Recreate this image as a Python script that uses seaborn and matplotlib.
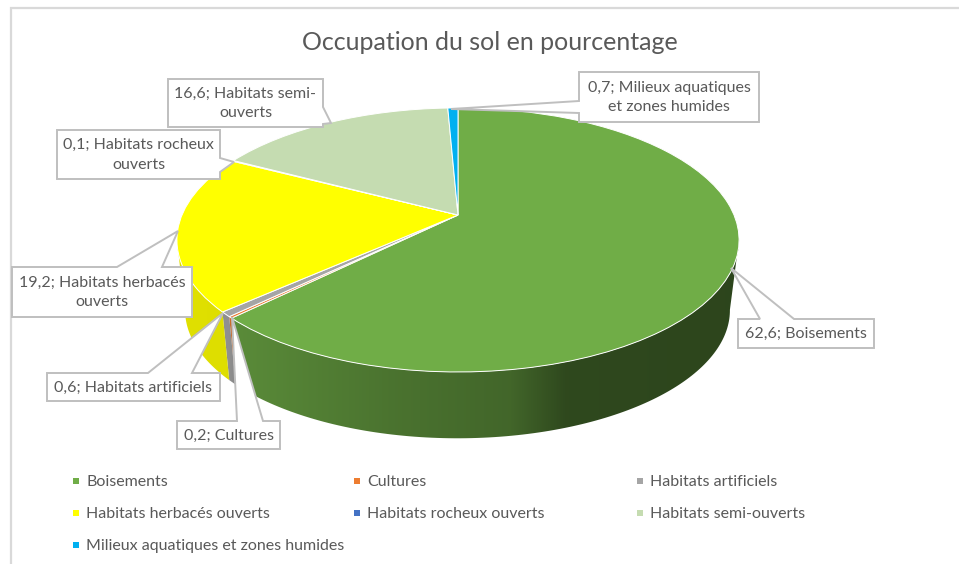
import numpy as np
import matplotlib
matplotlib.use("Agg")
import matplotlib.pyplot as plt
from matplotlib.transforms import Transform
import seaborn as sns

# --- data ---------------------------------------------------------------
categories = ["Boisements", "Cultures", "Habitats artificiels",
              "Habitats herbacés ouverts", "Habitats rocheux ouverts",
              "Habitats semi-ouverts", "Milieux aquatiques et zones humides"]
values = [62.6, 0.2, 0.6, 19.2, 0.1, 16.6, 0.7]
hex_colors = ["#70AD47", "#ED7D31", "#A5A5A5", "#FFFF00", "#4472C4", "#C5DCB1", "#00B0F0"]
wrapped = ["Boisements", "Cultures", "Habitats artificiels",
           "Habitats herbacés\nouverts", "Habitats rocheux\nouverts",
           "Habitats semi-\nouverts", "Milieux aquatiques\net zones humides"]
title = "Occupation du sol en pourcentage"

# --- style --------------------------------------------------------------
sns.set_theme(style="white")
plt.rcParams["font.family"] = ["Lato", "DejaVu Sans"]
palette = sns.color_palette(hex_colors)
TXT = "#595959"
LINE = "#BFBFBF"
W, H = 959, 564

fig = plt.figure(figsize=(W / 100, H / 100), dpi=100)
ax = fig.add_axes([0, 0, 1, 1])


class PiePerspective(Transform):
    """Tilted view of the unit pie, in pixel-like axes coordinates."""
    input_dims = output_dims = 2
    is_separable = False
    has_inverse = False

    def __init__(self, cx, cy, a, b, k):
        super().__init__()
        self.p = (cx, cy, a, b, k)

    def transform_non_affine(self, xy):
        xy = np.asarray(xy, float)
        cx, cy, a, b, k = self.p
        w = 1 + k * xy[:, 1]
        return np.column_stack([cx + a * xy[:, 0] / w, cy - b * xy[:, 1] / w])


top = PiePerspective(458, 215, 276, 127.3, 0.189)
bottom = PiePerspective(457.5, 286, 267.5, 123.5, 0.189)

wedges, _ = ax.pie(values, startangle=90, counterclock=False, colors=palette,
                   wedgeprops=dict(edgecolor="white", linewidth=0.7))
for w in wedges:
    w.set_transform(top + ax.transData)
    w.set_zorder(2)

# --- side wall: a horizontal gradient clipped to each slice's wall --------
shade_x = [180, 228, 240, 400, 510, 565, 740]
shade_f = [0.88, 0.87, 0.80, 0.66, 0.59, 0.42, 0.40]
gx = np.arange(170, 750)
gf = np.interp(gx, shade_x, shade_f)
for w, col in zip(wedges, palette):
    angles = np.linspace(w.theta1, w.theta2, max(3, int(w.theta2 - w.theta1) + 2))
    angles = angles[np.sin(np.radians(angles)) < -0.18]
    if len(angles) < 2:
        continue
    rim = np.column_stack([np.cos(np.radians(angles)), np.sin(np.radians(angles))])
    pts = np.vstack([top.transform_non_affine(rim), bottom.transform_non_affine(rim)[::-1]])
    outline, = ax.fill(pts[:, 0], pts[:, 1], facecolor="none", edgecolor="none", zorder=1)
    grad = (np.array(col)[None, None, :] * gf[None, :, None])
    im = ax.imshow(grad, extent=(170, 750, 450, 100), aspect="auto",
                   interpolation="bilinear", zorder=1)
    im.set_clip_path(outline)

ax.set_aspect("auto")
ax.set_xlim(0, W)
ax.set_ylim(H, 0)
ax.axis("off")

# --- callouts ------------------------------------------------------------
boxes = [  # x0, y0, x1, y1, tail polygon inserted into the outline
    (738, 319, 874, 348, [(760, 319), (731, 268), (794, 319)], "top"),
    (177, 421, 280, 449, [(237, 421), (232, 317), (263, 421)], "top"),
    (47, 373, 220, 401, [(148, 373), (223, 313), (192, 373)], "top"),
    (12, 267, 192, 317, [(117, 267), (178, 231), (162, 267)], "top"),
    (57, 130, 220, 179, [(220, 158), (234, 162), (220, 172)], "right"),
    (168, 79, 323, 127, [(323, 107), (331, 123), (323, 124)], "right"),
    (579, 72, 759, 122, [(579, 113), (451, 109), (579, 101)], "left"),
]
for (x0, y0, x1, y1, tail, side), cat, v in zip(boxes, wrapped, values):
    if side == "top":
        outline = [(x0, y0)] + tail + [(x1, y0), (x1, y1), (x0, y1)]
    elif side == "right":
        outline = [(x0, y0), (x1, y0)] + tail + [(x1, y1), (x0, y1)]
    else:
        outline = [(x0, y0), (x1, y0), (x1, y1), (x0, y1)] + tail
    xs, ys = zip(*outline)
    ax.fill(xs, ys, facecolor="white", edgecolor=LINE, linewidth=1.4, joinstyle="miter", zorder=3)
    ax.text((x0 + x1) / 2, (y0 + y1) / 2 + 0.5, f"{v:.1f}".replace(".", ",") + "; " + cat,
            ha="center", va="center", fontsize=11.5, color=TXT, linespacing=1.5, zorder=4)

# --- title, legend, frame ------------------------------------------------
ax.text(490, 42, title, ha="center", va="center", fontsize=18, color=TXT)

leg_x = [76, 357, 640]
leg_y = [481, 513, 545]
for i, (cat, col) in enumerate(zip(categories, palette)):
    lx, ly = leg_x[i % 3], leg_y[i // 3]
    ax.scatter([lx], [ly], marker="s", s=20, color=[col], linewidths=0, zorder=3)
    ax.text(lx + 10, ly + 1, cat, ha="left", va="center", fontsize=11.5, color=TXT)

ax.plot([11, 11, W], [H, 8, 8], color="#D9D9D9", linewidth=1.6, solid_joinstyle="miter", zorder=0)

fig.savefig("out.png", dpi=100)
